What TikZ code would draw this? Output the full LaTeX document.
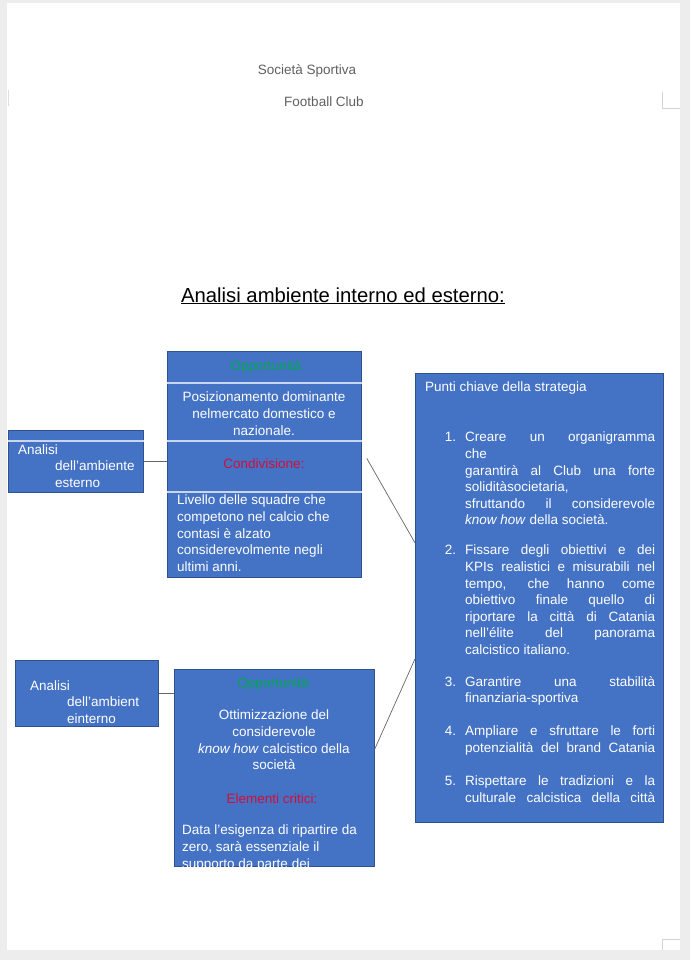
\documentclass[tikz,border=0pt]{standalone}
\usepackage{fontspec}
\setmainfont{Liberation Sans}
\usetikzlibrary{positioning}

\definecolor{boxblue}{HTML}{4472C4}
\definecolor{boxline}{HTML}{2F528F}
\definecolor{headgreen}{HTML}{00A84F}
\definecolor{headred}{HTML}{D0103A}
\definecolor{pagegray}{HTML}{EDEDED}
\definecolor{titlegray}{HTML}{606060}
\definecolor{sepblue}{HTML}{C9D6EE}

% one justified line of the strategy list
\newcommand{\jl}[1]{\makebox[190pt][s]{#1}}

\begin{document}
\begin{tikzpicture}[
  x=1pt, y=-1pt,
  font=\fontsize{13.5}{16.6}\selectfont,
  blk/.style={draw=boxline, fill=boxblue, line width=0.8pt, anchor=north west,
              inner sep=0pt},
  txt/.style={text=white, inner sep=0pt, anchor=north west, align=left},
  ctxt/.style={text=white, inner sep=0pt, anchor=north, align=center},
  hdr/.style={inner sep=0pt, anchor=base},
  sep/.style={draw=sepblue, line width=1.2pt},
  link/.style={draw=gray!80!black, line width=0.7pt},
]
% page
\fill[pagegray] (0,0) rectangle (690,960);
\fill[white] (7,3) rectangle (680,950);
\draw[gray!35, line width=1pt] (662,92) -- (662,109) -- (680,109);
\draw[gray!35, line width=1pt] (662,950) -- (662,939) -- (680,939);
\draw[gray!25, line width=1pt] (8,90) -- (8,106);
% titles
\node[hdr, text=titlegray] (club1) at (307,75) {Società Sportiva};
\node[hdr, text=titlegray] (club2) at (324,107) {Football Club};
\node[hdr, font=\fontsize{20.3}{23}\selectfont] (title) at (343,302)
  {\underline{Analisi ambiente interno ed esterno:}};
% boxes
\node[blk, minimum width=135pt, minimum height=62pt] (ext) at (8,430) {};
\node[blk, minimum width=143pt, minimum height=66pt] (int) at (15,660) {};
\node[blk, minimum width=194pt, minimum height=226pt] (s1) at (167,351) {};
\node[blk, minimum width=200pt, minimum height=197pt] (s2) at (174,669) {};
\node[blk, minimum width=248pt, minimum height=449pt] (strat) at (415,373) {};
% separators
\draw[sep] ([yshift=-11pt]ext.north west) -- ([yshift=-11pt]ext.north east);
\draw[sep] ([yshift=-32pt]s1.north west) -- ([yshift=-32pt]s1.north east);
\draw[sep] ([yshift=-90pt]s1.north west) -- ([yshift=-90pt]s1.north east);
\draw[sep] ([yshift=-141pt]s1.north west) -- ([yshift=-141pt]s1.north east);
% external analysis
\node[txt] (ext1) at (18,445) {Analisi};
\node[txt] (ext2) at (55,461) {dell’ambiente\\esterno};
\node[hdr, text=headgreen] (s1h) at (266,370) {Opportunità};
\node[ctxt] (s1a) at (264,392) {Posizionamento dominante\\nelmercato domestico e\\nazionale.};
\node[hdr, text=headred] (s1r) at (264,468) {Condivisione:};
\node[txt] (s1b) at (177,495) {Livello delle squadre che\\competono nel calcio che\\contasi è alzato\\considerevolmente negli\\ultimi anni.};
% internal analysis
\node[txt] (int1) at (30,681) {Analisi};
\node[txt] (int2) at (67,697) {dell’ambient\\einterno};
\node[hdr, text=headgreen] (s2h) at (273,687) {Opportunità};
\node[ctxt] (s2a) at (274,710) {Ottimizzazione del\\considerevole\\\textit{know how} calcistico della\\società};
\node[hdr, text=headred] (s2r) at (272,803) {Elementi critici:};
\begin{scope}
  \clip (s2.north west) rectangle (s2.south east);
  \node[txt] (s2b) at (182,825) {Data l’esigenza di ripartire da\\zero, sarà essenziale il\\supporto da parte dei};
\end{scope}
% strategy
\node[txt] (khead) at (425,382) {Punti chiave della strategia};
\node[txt] (k1) at (465,432) {\llap{1.\hspace{9pt}}\jl{Creare un organigramma}\\che\\
  \jl{garantirà al Club una forte}\\soliditàsocietaria,\\
  \jl{sfruttando il considerevole}\\\textit{know how} della società.};
\node[txt] (k2) at (465,545) {\llap{2.\hspace{9pt}}\jl{Fissare degli obiettivi e dei}\\
  \jl{KPIs realistici e misurabili nel}\\\jl{tempo, che hanno come}\\
  \jl{obiettivo finale quello di}\\\jl{riportare la città di Catania}\\
  \jl{nell’élite del panorama}\\calcistico italiano.};
\node[txt] (k3) at (465,676) {\llap{3.\hspace{9pt}}\jl{Garantire una stabilità}\\finanziaria-sportiva};
\node[txt] (k4) at (465,726) {\llap{4.\hspace{9pt}}\jl{Ampliare e sfruttare le forti}\\\jl{potenzialità del brand Catania}};
\node[txt] (k5) at (465,776) {\llap{5.\hspace{9pt}}\jl{Rispettare le tradizioni e la}\\\jl{culturale calcistica della città}};
% connectors
\draw[link] (ext.east) -- (s1.west |- ext.east);
\draw[link] (int.east) -- (s2.west |- int.east);
\draw[link] ([shift={(5pt,6pt)}]s1.east) -- ([yshift=55pt]strat.west);
\draw[link] ([yshift=19pt]s2.east) -- ([yshift=-61pt]strat.west);
\end{tikzpicture}
\end{document}
